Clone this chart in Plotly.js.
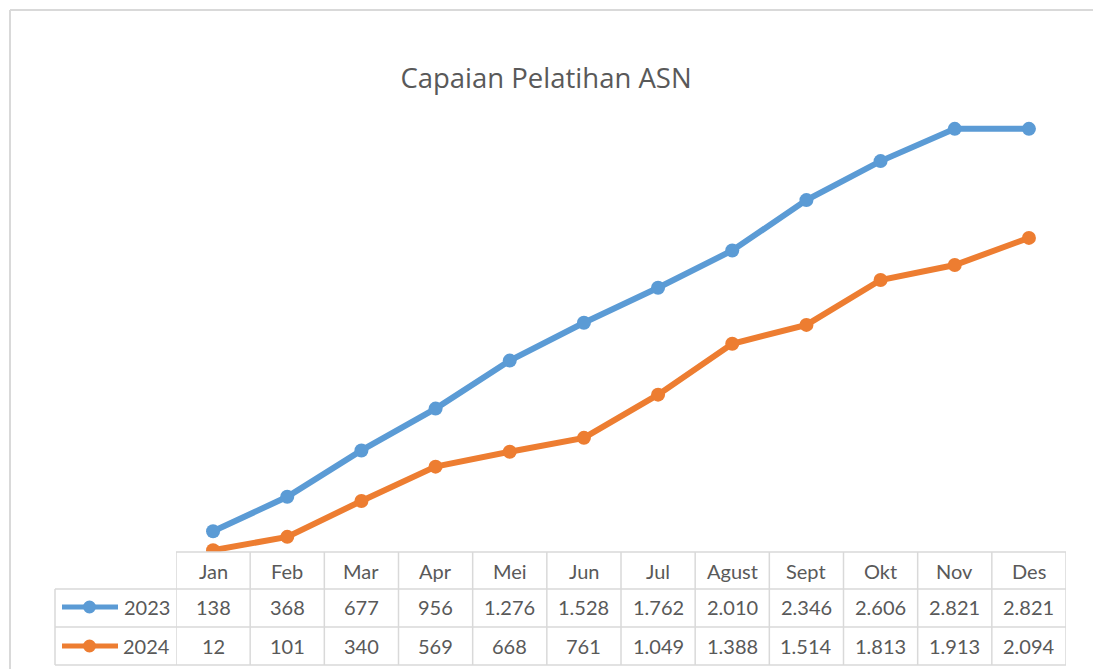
<!DOCTYPE html>
<html>
<head>
<meta charset="utf-8">
<script src="https://cdn.plot.ly/plotly-3.0.1.min.js"></script>
<style>html,body{margin:0;padding:0;background:#fff;}#chart{width:1093px;height:669px;}</style>
</head>
<body>
<div id="chart"></div>
<script>
const months = ["Jan","Feb","Mar","Apr","Mei","Jun","Jul","Agust","Sept","Okt","Nov","Des"];
const series2023 = [138,368,677,956,1276,1528,1762,2010,2346,2606,2821,2821];
const series2024 = [12,101,340,569,668,761,1049,1388,1514,1813,1913,2094];
const seriesNames = ["2023","2024"];
const colors = ["#5B9BD5","#ED7D31"];

const W = 1093, H = 669;
const px = v => v / W;
const py = v => 1 - v / H;
const fmt = n => String(n).replace(/\B(?=(\d{3})+(?!\d))/g, ".");

const gridColor = "#d9d9d9";
const textColor = "#595959";
const font = "Lato, 'Open Sans', sans-serif";
const titleFont = "'Open Sans', Lato, sans-serif";

const tableLeft = 55, tableX0 = 176, tableX1 = 1066;
const rowY = [552, 589, 627, 665];

const traces = [series2023, series2024].map((vals, i) => ({
  type: "scatter", mode: "lines+markers", name: seriesNames[i],
  x: months, y: vals,
  line: {color: colors[i], width: 6},
  marker: {color: colors[i], size: 14},
  hoverinfo: "x+y", showlegend: false
}));

const shapes = [];
// chart frame
shapes.push({type:"line", xref:"paper", yref:"paper", x0:px(10), x1:1.01, y0:py(10), y1:py(10), line:{color:gridColor, width:2}});
shapes.push({type:"line", xref:"paper", yref:"paper", x0:px(10), x1:px(10), y0:py(10), y1:-0.01, line:{color:gridColor, width:2}});
// table horizontal lines
shapes.push({type:"line", xref:"paper", yref:"paper", x0:px(tableX0), x1:px(tableX1), y0:py(rowY[0]), y1:py(rowY[0]), line:{color:gridColor, width:1.5}});
for (let r = 1; r < 4; r++) {
  shapes.push({type:"line", xref:"paper", yref:"paper", x0:px(tableLeft), x1:px(tableX1), y0:py(rowY[r]), y1:py(rowY[r]), line:{color:gridColor, width:1.5}});
}
// vertical lines
shapes.push({type:"line", xref:"paper", yref:"paper", x0:px(tableLeft), x1:px(tableLeft), y0:py(rowY[1]), y1:py(rowY[3]), line:{color:gridColor, width:1.5}});
for (let k = 0; k <= months.length; k++) {
  shapes.push({type:"line", xref:"x", yref:"paper", x0:k-0.5, x1:k-0.5, y0:py(rowY[0]), y1:py(rowY[3]), line:{color:gridColor, width:1.5}});
}
// legend keys
const annotations = [];
[607, 646].forEach((yy, i) => {
  shapes.push({type:"line", xref:"paper", yref:"paper", x0:px(62), x1:px(118), y0:py(yy), y1:py(yy), line:{color:colors[i], width:5}});
  shapes.push({type:"circle", xref:"paper", yref:"paper", x0:px(83), x1:px(96), y0:py(yy+6.5), y1:py(yy-6.5), fillcolor:colors[i], line:{color:colors[i], width:0}});
  annotations.push({xref:"paper", yref:"paper", x:px(172), y:py(yy), xanchor:"right", yanchor:"middle", text:seriesNames[i], showarrow:false, font:{family:font, size:20, color:textColor}});
});
// table texts
months.forEach((m, j) => {
  annotations.push({xref:"x", yref:"paper", x:m, y:py(571), xanchor:"center", yanchor:"middle", text:m, showarrow:false, font:{family:font, size:20, color:textColor}});
  annotations.push({xref:"x", yref:"paper", x:m, y:py(607), xanchor:"center", yanchor:"middle", text:fmt(series2023[j]), showarrow:false, font:{family:font, size:20, color:textColor}});
  annotations.push({xref:"x", yref:"paper", x:m, y:py(646), xanchor:"center", yanchor:"middle", text:fmt(series2024[j]), showarrow:false, font:{family:font, size:20, color:textColor}});
});

const layout = {
  width: W, height: H,
  margin: {l:0, r:0, t:0, b:0},
  paper_bgcolor: "#ffffff", plot_bgcolor: "#ffffff",
  title: {text: "Capaian Pelatihan ASN", x: px(546), xanchor: "center", y: py(78), yanchor: "middle", font: {family: titleFont, size: 27.5, color: textColor}},
  xaxis: {domain: [px(tableX0), px(tableX1)], type: "category", range: [-0.5, 11.5], showgrid: false, zeroline: false, showline: false, showticklabels: false, ticks: ""},
  yaxis: {domain: [py(552), py(102)], range: [0, 3000], showgrid: false, zeroline: false, showline: false, showticklabels: false, ticks: ""},
  shapes: shapes,
  annotations: annotations,
  showlegend: false
};

Plotly.newPlot("chart", traces, layout, {displayModeBar: false, staticPlot: true});
</script>
</body>
</html>
